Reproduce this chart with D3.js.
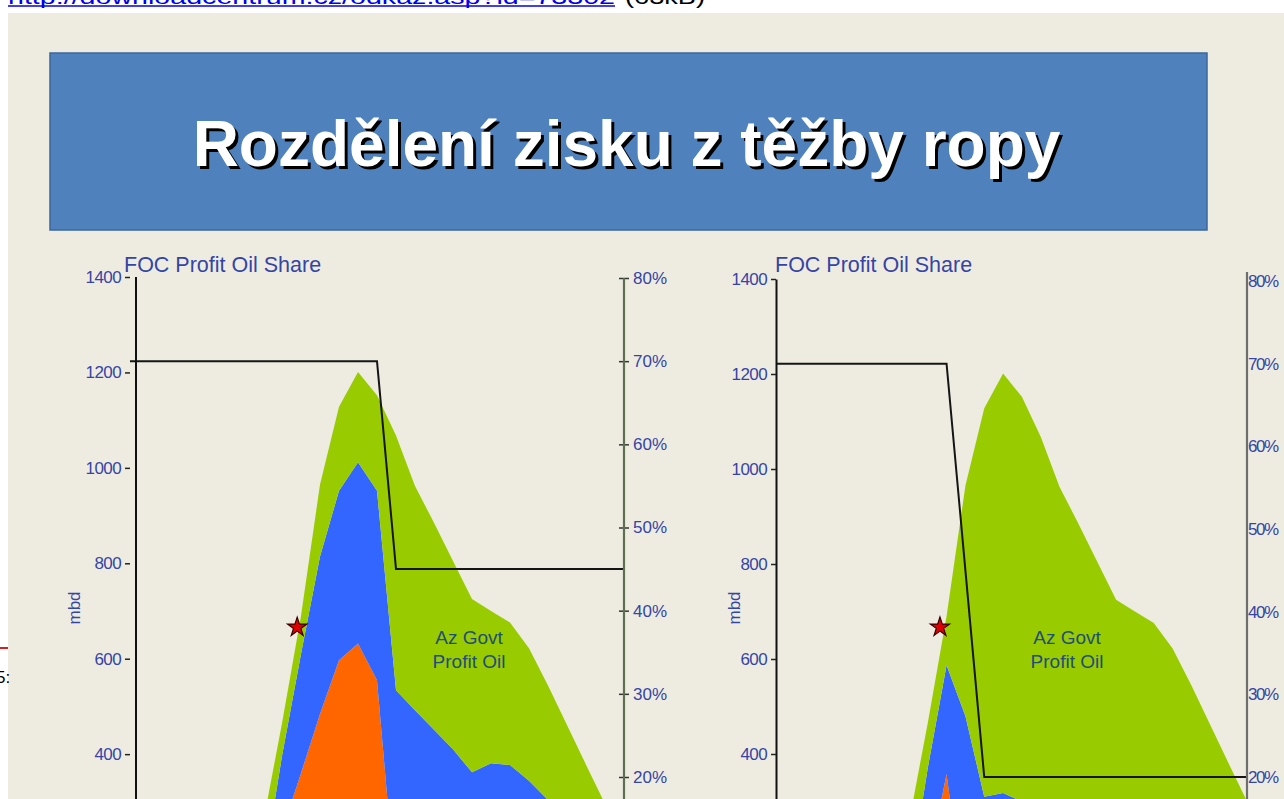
<!DOCTYPE html>
<html><head><meta charset="utf-8">
<script src="https://cdn.jsdelivr.net/npm/d3@7"></script>
<style>
html,body{margin:0;padding:0;background:#fff;overflow:hidden}
svg{display:block}
text{font-family:"Liberation Sans",Arial,sans-serif}
</style></head><body>
<svg id="c" width="1284" height="799"></svg>
<script>
// ---------- text ----------
const titleText = "Rozdělení zisku z těžby ropy";
const linkText = "http://downloadcentrum.cz/odkaz.asp?id=73302";
const sizeText = "(63kB)";
const focTitle = "FOC Profit Oil Share";
const govtLabel = ["Az Govt", "Profit Oil"];
const unitLabel = "mbd";

// ---------- tick labels ----------
const volumeTicks = [200, 400, 600, 800, 1000, 1200, 1400];
const shareTicks = [20, 30, 40, 50, 60, 70, 80];

// ---------- left chart data (periods, mbd) ----------
const leftPeriods = [0,1,2,3,4,5,6,7,8,9,10,11,12,13,14,15,16,17,18,19,20,21,22,23,24,25,26];
const leftOrange  = [0,0,0,0,0,0,0,80,239,360,484,597,632,555,100,90,80,70,60,55,50,45,40,35,30,25,20];
const leftBlue    = [0,0,0,0,0,10,50,70,157,250,330,355,380,397,434,402,371,340,302,326,327,299,264,229,194,159,130];
const leftGreen   = [0,0,0,0,0,10,40,105,69,80,151,176,189,200,534,470,434,395,363,319,299,278,240,197,154,112,70];
const leftFoc     = [70,70,70,70,70,70,70,70,70,70,70,70,70,70,45,45,45,45,45,45,45,45,45,45,45,45,45];
const leftStar    = {period: 8.8, value: 666};

// ---------- right chart data (periods, mbd) ----------
const rightPeriods = [0,1,2,3,4,5,6,7,8,9,10,11,12,13,14,15,16,17,18,19,20,21,22,23,24,25];
const rightOrange  = [0,0,0,0,0,0,0,0,160,358,60,40,35,30,28,26,24,22,20,18,16,14,12,10,8,6];
const rightBlue    = [0,0,0,0,0,0,30,120,210,229,420,270,283,270,252,234,216,198,180,172,164,156,148,140,132,124];
const rightGreen   = [0,0,0,0,0,20,60,135,95,103,485,818,883,852,788,702,645,585,525,510,496,452,384,311,238,166];
const rightFoc     = [70,70,70,70,70,70,70,70,70,70,45,20,20,20,20,20,20,20,20,20,20,20,20,20,20,20];
const rightStar    = {period: 8.65, value: 667};

const colors = {orange: "#FF6600", blue: "#3366FF", green: "#99CC00"};
const labelBlue = "#3545A5";

const svg = d3.select("#c");
svg.append("rect").attr("width", 1284).attr("height", 799).attr("fill", "#fff");
svg.append("rect").attr("x", 8).attr("y", 13).attr("width", 1276).attr("height", 786).attr("fill", "#EEECE1");

// top link (cut off)
svg.append("text").attr("x", 8).attr("y", 4)
  .attr("font-family", "DejaVu Sans").attr("font-size", 20).attr("fill", "#0000EE")
  .attr("textLength", 607).attr("lengthAdjust", "spacingAndGlyphs").text(linkText);
svg.append("line").attr("x1", 8).attr("x2", 615).attr("y1", 6).attr("y2", 6)
  .attr("stroke", "#0000EE").attr("stroke-width", 1.5);
svg.append("text").attr("x", 625).attr("y", 4)
  .attr("font-family", "DejaVu Sans").attr("font-size", 20).attr("fill", "#000")
  .attr("textLength", 80).attr("lengthAdjust", "spacingAndGlyphs").text(sizeText);

// left edge fragments
svg.append("line").attr("x1", 0).attr("x2", 8).attr("y1", 648).attr("y2", 648)
  .attr("stroke", "#D62020").attr("stroke-width", 2);
svg.append("text").attr("x", -4).attr("y", 683).attr("font-family", "DejaVu Sans")
  .attr("font-size", 17).attr("fill", "#000").text("5:");

// title box
svg.append("rect").attr("x", 50).attr("y", 53).attr("width", 1157).attr("height", 177)
  .attr("fill", "#4F81BD").attr("stroke", "#3B679C").attr("stroke-width", 1.5);
svg.append("text").attr("x", 629.5).attr("y", 169).attr("text-anchor", "middle")
  .attr("font-size", 64).attr("font-weight", "bold").attr("fill", "#000").text(titleText);
svg.append("text").attr("x", 626.5).attr("y", 166).attr("text-anchor", "middle")
  .attr("font-size", 64).attr("font-weight", "bold").attr("fill", "#fff").text(titleText);

function drawChart(o) {
  const g = svg.append("g");
  const x = d3.scaleLinear().domain([o.periods[0], o.periods[o.periods.length - 1]]).range(o.xRange);
  const y = d3.scaleLinear().domain([0, 1400]).range(o.yRange);
  const p = d3.scaleLinear().domain([20, 80]).range(o.pRange);

  const rows = o.periods.map((d, i) => ({period: d, orange: o.orange[i], blue: o.blue[i], green: o.green[i]}));
  const series = d3.stack().keys(["orange", "blue", "green"])(rows);
  const area = d3.area().x(d => x(d.data.period)).y0(d => y(d[0])).y1(d => y(d[1]));
  g.selectAll("path.layer").data(series).join("path").attr("class", "layer")
    .attr("fill", d => colors[d.key]).attr("d", area);

  // FOC share line
  const line = d3.line().x((d, i) => x(o.periods[i])).y(d => p(d));
  g.append("path").attr("d", line(o.foc)).attr("fill", "none")
    .attr("stroke", "#151515").attr("stroke-width", 2);

  // left axis
  const la = g.append("g").attr("transform", `translate(${o.leftAxisX},0)`)
    .call(d3.axisLeft(y).tickValues(volumeTicks).tickFormat(d3.format("d"))
      .tickSizeInner(5).tickSizeOuter(0).tickPadding(4));
  la.selectAll("text").attr("fill", labelBlue).attr("font-size", 17).attr("letter-spacing", -0.6)
    .attr("font-family", "Liberation Sans, Arial, sans-serif");
  la.selectAll(".tick line").attr("stroke", "#222").attr("stroke-width", 1.5);
  if (o.leftBorderX) {
    la.select(".domain").remove();
    g.append("line").attr("x1", o.leftBorderX).attr("x2", o.leftBorderX)
      .attr("y1", y(1400)).attr("y2", y(0)).attr("stroke", "#111").attr("stroke-width", 2);
  } else {
    la.select(".domain").attr("stroke", "#111").attr("stroke-width", 2);
  }

  // right axis
  const ra = g.append("g").attr("transform", `translate(${o.rightAxisX},0)`)
    .call(d3.axisRight(p).tickValues(shareTicks).tickFormat(d => d + "%")
      .tickSizeInner(o.rightTick).tickSizeOuter(0).tickPadding(o.rightPad));
  ra.select(".domain").remove();
  ra.selectAll(".tick line").attr("x1", -o.rightTick).attr("stroke", "#333").attr("stroke-width", 1.5);
  ra.selectAll("text").attr("fill", labelBlue).attr("font-size", 17)
    .attr("letter-spacing", o.rightSpacing)
    .attr("font-family", "Liberation Sans, Arial, sans-serif");
  g.append("line").attr("x1", o.rightAxisX).attr("x2", o.rightAxisX)
    .attr("y1", o.rightTop).attr("y2", y(0)).attr("stroke", o.rightColor).attr("stroke-width", 2.2);

  // star marker
  g.append("path").attr("d", d3.symbol(d3.symbolStar, 115)())
    .attr("transform", `translate(${x(o.star.period)},${y(o.star.value)})`)
    .attr("fill", "#E00000").attr("stroke", "#3a0000").attr("stroke-width", 1.2);

  // texts
  g.append("text").attr("x", o.focX).attr("y", 272).attr("font-size", 21.5)
    .attr("fill", labelBlue).text(focTitle);
  g.append("text").attr("transform", `translate(${o.unitX},608) rotate(-90)`)
    .attr("text-anchor", "middle").attr("font-size", 17).attr("fill", labelBlue).text(unitLabel);
  g.selectAll("text.govt").data(govtLabel).join("text").attr("class", "govt")
    .attr("x", o.govtX).attr("y", (d, i) => 644 + i * 24).attr("text-anchor", "middle")
    .attr("font-size", 19).attr("fill", "#1F4E79").text(d => d);
}

drawChart({
  periods: leftPeriods, orange: leftOrange, blue: leftBlue, green: leftGreen, foc: leftFoc, star: leftStar,
  xRange: [130, 624], yRange: [945, 277], pRange: [777, 278],
  leftAxisX: 130, leftBorderX: 136, rightAxisX: 624, rightTick: 5, rightPad: 4, rightSpacing: 0,
  rightTop: 278, rightColor: "#5E6E50", focX: 124, unitX: 80, govtX: 469
});
drawChart({
  periods: rightPeriods, orange: rightOrange, blue: rightBlue, green: rightGreen, foc: rightFoc, star: rightStar,
  xRange: [777, 1248], yRange: [944, 279], pRange: [777, 281],
  leftAxisX: 776, leftBorderX: null, rightAxisX: 1247, rightTick: 0, rightPad: 1, rightSpacing: -1.5,
  rightTop: 272, rightColor: "#6E6E6E", focX: 775, unitX: 740, govtX: 1067
});
</script>
</body></html>
